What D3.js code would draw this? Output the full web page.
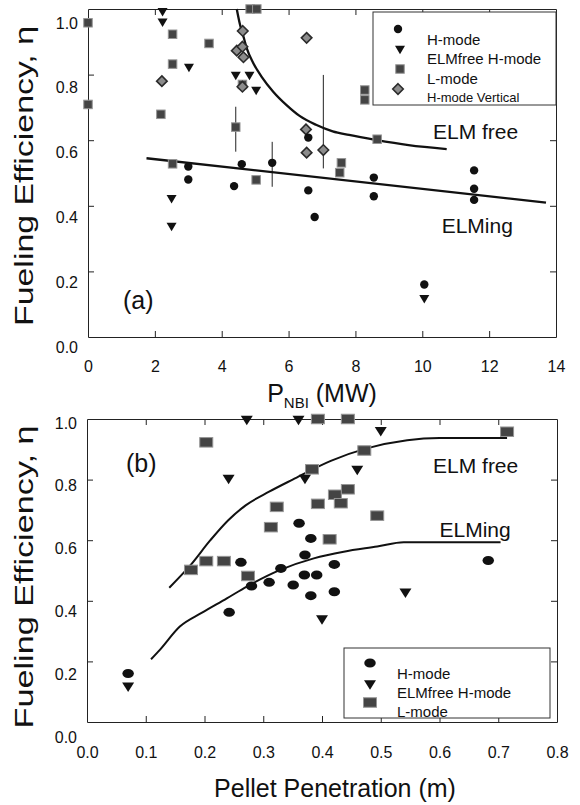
<!DOCTYPE html>
<html>
<head>
<meta charset="utf-8">
<script src="https://cdn.jsdelivr.net/npm/d3@7"></script>
<style>
body{margin:0;background:#fff}
text{font-family:"Liberation Sans",Arial,Helvetica,sans-serif;fill:#111}
.axis path,.axis line{stroke:#222;stroke-width:1}
</style>
</head>
<body>
<svg id="chart" width="580" height="805"></svg>
<script>
// ---- panel (a): fueling efficiency vs NBI power ----
const aHmode = [[3.0,0.52],[3.0,0.48],[4.37,0.46],[4.6,0.527],[5.51,0.531],[6.59,0.608],[6.59,0.447],
    [6.78,0.366],[8.55,0.486],[8.55,0.429],[10.06,0.16],[11.55,0.508],[11.55,0.452],[11.55,0.418]]
const aElmfree = [[2.23,0.99],[2.23,0.958],[3.02,0.82],[4.42,0.796],[4.83,0.796],[5.03,0.75],
    [2.5,0.42],[2.5,0.335],[10.06,0.115]]
const aLmode = [[0,0.958],[0,0.709],[2.18,0.679],[2.53,0.923],[2.53,0.832],[3.62,0.895],[4.85,1.0],[5.05,1.0],
    [4.62,0.77],[4.42,0.64],[2.53,0.528],[5.03,0.479],[7.58,0.531],[7.53,0.501],[8.28,0.753],[8.28,0.723],[8.65,0.603]]
const aVertical = [[2.21,0.78],[4.63,0.933],[4.45,0.873],[4.62,0.885],[4.65,0.853],[4.62,0.763],
    [6.54,0.912],[6.52,0.633],[6.54,0.562],[7.04,0.57]]
// x, low, high
const aErrBars = [[4.42,0.565,0.702],[5.51,0.458,0.595],[7.04,0.514,0.799]]
const aElmfreeCurve = [[4.45,1.0],[4.55,0.951],[4.65,0.916],[4.75,0.88],[4.95,0.834],[5.19,0.794],[5.54,0.748],
    [5.94,0.707],[6.33,0.674],[6.82,0.647],[7.32,0.627],[7.81,0.616],[8.6,0.601],[9.59,0.585],[10.73,0.573]]
const aElmingLine = [[1.75,0.545],[13.7,0.41]]
const aXTicks = [0,2,4,6,8,10,12,14]

// ---- panel (b): fueling efficiency vs pellet penetration ----
const bHmode = [[0.07,0.16],[0.242,0.362],[0.262,0.527],[0.28,0.449],[0.31,0.461],[0.33,0.507],[0.351,0.452],
    [0.361,0.656],[0.37,0.485],[0.371,0.551],[0.381,0.606],[0.381,0.417],[0.391,0.485],[0.421,0.52],[0.421,0.43],[0.683,0.533]]
const bElmfree = [[0.07,0.115],[0.241,0.80],[0.272,0.995],[0.36,0.995],[0.371,0.80],[0.40,0.337],
    [0.46,0.83],[0.50,0.958],[0.542,0.425]]
const bLmode = [[0.177,0.502],[0.203,0.531],[0.233,0.531],[0.203,0.923],[0.274,0.482],[0.313,0.643],[0.323,0.71],
    [0.383,0.834],[0.393,0.72],[0.393,1.0],[0.413,0.603],[0.422,0.75],[0.432,0.722],[0.444,0.768],[0.444,1.0],
    [0.472,0.896],[0.494,0.681],[0.715,0.958]]
const bElmfreeCurve = [[0.14,0.443],[0.175,0.515],[0.21,0.60],[0.24,0.665],[0.27,0.715],[0.31,0.76],[0.35,0.80],
    [0.415,0.862],[0.476,0.903],[0.545,0.93],[0.60,0.937],[0.715,0.937]]
const bElmingCurve = [[0.109,0.207],[0.124,0.238],[0.158,0.315],[0.195,0.36],[0.238,0.408],[0.272,0.447],
    [0.329,0.502],[0.386,0.54],[0.437,0.562],[0.494,0.579],[0.539,0.593],[0.704,0.593]]
const bXTicks = [0,0.1,0.2,0.3,0.4,0.5,0.6,0.7,0.8]

const yTicks = [0,0.2,0.4,0.6,0.8,1.0]

const svg = d3.select("#chart")
svg.append("rect").attr("width",580).attr("height",805).attr("fill","#fff")

function addShape(sel, kind, w, h) {
    if (kind=="circle") {
        sel.append("ellipse").attr("rx",w/2).attr("ry",h/2).attr("fill","#111")
    } else if (kind=="tri") {
        sel.append("path").attr("d",`M${-w/2},${-h/2}L${w/2},${-h/2}L0,${h/2}Z`).attr("fill","#111")
    } else if (kind=="square") {
        sel.append("rect").attr("x",-w/2).attr("y",-h/2).attr("width",w).attr("height",h)
            .attr("fill","#444").attr("stroke","#959595").attr("stroke-width",1)
    } else {
        sel.append("path").attr("d",`M0,${-h/2}L${w/2},0L0,${h/2}L${-w/2},0Z`)
            .attr("fill","#8c8c8c").attr("stroke","#2b2b2b").attr("stroke-width",1.6)
    }
}

function drawPoints(g, data, kind, xs, ys, w, h) {
    g.append("g").selectAll("g").data(data).join("g")
        .attr("transform", d => `translate(${xs(d[0])},${ys(d[1])})`)
        .each(function () { addShape(d3.select(this), kind, w, h) })
}

function frame(g, xs, ys, xTicks, yLab, fmtX, padX) {
    const [x0,x1] = xs.range(), [y0,y1] = ys.range()
    const inX = xTicks.slice(1,-1), inY = yTicks.slice(1,-1)
    g.append("g").attr("class","axis").attr("transform",`translate(0,${y0})`)
        .call(d3.axisBottom(xs).tickValues(inX).tickSize(-6).tickSizeOuter(0).tickFormat(""))
    g.append("g").attr("class","axis").attr("transform",`translate(0,${y1})`)
        .call(d3.axisTop(xs).tickValues(inX).tickSize(-6).tickSizeOuter(0).tickFormat(""))
    g.append("g").attr("class","axis").attr("transform",`translate(${x0},0)`)
        .call(d3.axisLeft(ys).tickValues(inY).tickSize(-6).tickSizeOuter(0).tickFormat(""))
    g.append("g").attr("class","axis").attr("transform",`translate(${x1},0)`)
        .call(d3.axisRight(ys).tickValues(inY).tickSize(-6).tickSizeOuter(0).tickFormat(""))

    // tick labels (the source prints y labels a bit lower than their ticks)
    const xl = g.append("g").attr("transform",`translate(0,${y0})`)
        .call(d3.axisBottom(xs).tickValues(xTicks).tickSize(0).tickPadding(padX).tickFormat(fmtX))
    const yl = g.append("g").attr("transform",`translate(${x0},0)`)
        .call(d3.axisLeft(yLab).tickValues(yTicks).tickSize(0).tickPadding(10).tickFormat(d3.format(".1f")))
    for (const s of [xl,yl]) {
        s.select(".domain").remove()
        s.selectAll("text").attr("font-size",16).attr("font-family",null).style("fill","#111")
    }
}

const lineGen = (xs, ys) => d3.line().x(d=>xs(d[0])).y(d=>ys(d[1])).curve(d3.curveMonotoneX)

// ================= panel (a) =================
const xA = d3.scaleLinear().domain([0,14]).range([88,556])
const yA = d3.scaleLinear().domain([0,1]).range([337,9])
const yLabA = d3.scaleLinear().domain([0,1]).range([347,23])
const gA = svg.append("g")

frame(gA, xA, yA, aXTicks, yLabA, d3.format("d"), 24)

gA.append("text").attr("transform","translate(33,176) rotate(-90)").attr("text-anchor","middle")
    .attr("font-size",25).attr("textLength",300).attr("lengthAdjust","spacingAndGlyphs")
    .text("Fueling Efficiency, η")
const xtA = gA.append("text").attr("x",322).attr("y",402).attr("text-anchor","middle").attr("font-size",25)
xtA.append("tspan").text("P")
xtA.append("tspan").attr("font-size",15).attr("dy",6).text("NBI")
xtA.append("tspan").attr("dy",-6).text(" (MW)")
gA.append("text").attr("x",123).attr("y",309).attr("font-size",25).text("(a)")

gA.append("g").selectAll("line").data(aErrBars).join("line")
    .attr("x1",d=>xA(d[0])).attr("x2",d=>xA(d[0])).attr("y1",d=>yA(d[1])).attr("y2",d=>yA(d[2]))
    .attr("stroke","#222").attr("stroke-width",1)
gA.append("path").attr("d",lineGen(xA,yA)(aElmfreeCurve)).attr("fill","none").attr("stroke","#111").attr("stroke-width",2.3)
gA.append("path").attr("d",lineGen(xA,yA)(aElmingLine)).attr("fill","none").attr("stroke","#111").attr("stroke-width",2.3)

drawPoints(gA, aLmode, "square", xA, yA, 8.5, 8.5)
drawPoints(gA, aVertical, "diamond", xA, yA, 10.5, 10.5)
drawPoints(gA, aElmfree, "tri", xA, yA, 10, 8.5)
drawPoints(gA, aHmode, "circle", xA, yA, 8.4, 8.4)

gA.append("text").attr("x",xA(10.32)).attr("y",yA(0.604)).attr("font-size",21).text("ELM free")
gA.append("text").attr("x",xA(10.58)).attr("y",yA(0.317)).attr("font-size",21).text("ELMing")

// legend (a)
const legA = gA.append("g")
legA.append("rect").attr("x",373).attr("y",12).attr("width",183).attr("height",93)
    .attr("fill","#fff").attr("stroke","#333").attr("stroke-width",1)
const legAItems = [
    {kind:"circle",mx:398,my:29,label:"H-mode",ty:45,fs:15,w:8.4,h:8.4},
    {kind:"tri",mx:400,my:50,label:"ELMfree H-mode",ty:64,fs:15,w:10,h:8.5},
    {kind:"square",mx:400,my:69,label:"L-mode",ty:84,fs:15,w:8.5,h:8.5},
    {kind:"diamond",mx:398,my:89,label:"H-mode Vertical",ty:101.5,fs:13,w:10.5,h:10.5}
]
legAItems.forEach(d => {
    const m = legA.append("g").attr("transform",`translate(${d.mx},${d.my})`)
    addShape(m, d.kind, d.w, d.h)
    legA.append("text").attr("x",427).attr("y",d.ty).attr("font-size",d.fs).text(d.label)
})

// ================= panel (b) =================
const xB = d3.scaleLinear().domain([0,0.8]).range([87,557])
const yB = d3.scaleLinear().domain([0,1]).range([722,419])
const yLabB = d3.scaleLinear().domain([0,1]).range([737,423])
const gB = svg.append("g")

frame(gB, xB, yB, bXTicks, yLabB, d3.format(".1f"), 25)

gB.append("text").attr("transform","translate(33,577) rotate(-90)").attr("text-anchor","middle")
    .attr("font-size",25).attr("textLength",303).attr("lengthAdjust","spacingAndGlyphs")
    .text("Fueling Efficiency, η")
gB.append("text").attr("x",335).attr("y",797).attr("text-anchor","middle").attr("font-size",25)
    .text("Pellet Penetration (m)")
gB.append("text").attr("x",126).attr("y",472).attr("font-size",25).text("(b)")

gB.append("path").attr("d",lineGen(xB,yB)(bElmfreeCurve)).attr("fill","none").attr("stroke","#111").attr("stroke-width",2)
gB.append("path").attr("d",lineGen(xB,yB)(bElmingCurve)).attr("fill","none").attr("stroke","#111").attr("stroke-width",2)

drawPoints(gB, bLmode, "square", xB, yB, 13, 9.5)
drawPoints(gB, bElmfree, "tri", xB, yB, 12, 9.5)
drawPoints(gB, bHmode, "circle", xB, yB, 11.5, 9)

gB.append("text").attr("x",xB(0.589)).attr("y",yB(0.823)).attr("font-size",21).text("ELM free")
gB.append("text").attr("x",xB(0.6)).attr("y",yB(0.61)).attr("font-size",21).text("ELMing")

// legend (b)
const legB = gB.append("g")
legB.append("rect").attr("x",344).attr("y",648).attr("width",206).attr("height",70)
    .attr("fill","#fff").attr("stroke","#333").attr("stroke-width",1)
const legBItems = [
    {kind:"circle",my:663,label:"H-mode",ty:679,w:11.5,h:9},
    {kind:"tri",my:685,label:"ELMfree H-mode",ty:698,w:12,h:9.5},
    {kind:"square",my:702.5,label:"L-mode",ty:716.5,w:13,h:9.5}
]
legBItems.forEach(d => {
    const m = legB.append("g").attr("transform",`translate(370,${d.my})`)
    addShape(m, d.kind, d.w, d.h)
    legB.append("text").attr("x",397).attr("y",d.ty).attr("font-size",15).text(d.label)
})
</script>
</body>
</html>
